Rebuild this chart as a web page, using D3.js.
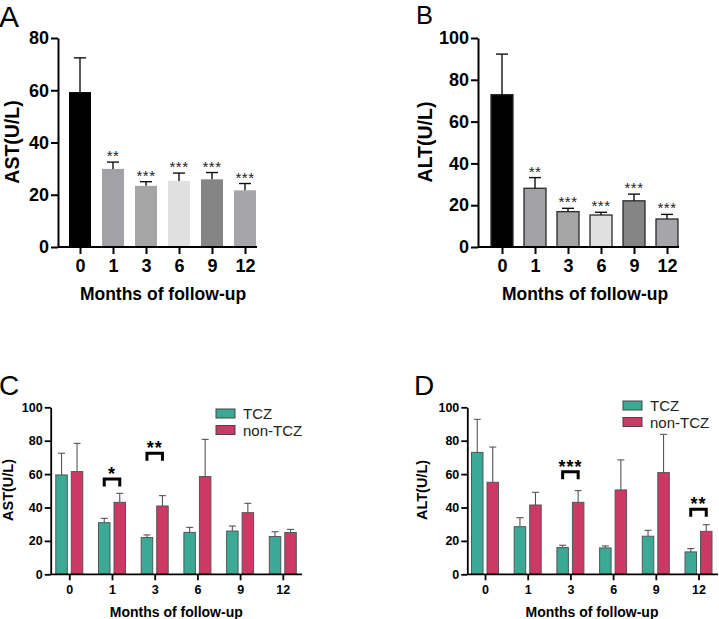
<!DOCTYPE html>
<html>
<head>
<meta charset="utf-8">
<script src="https://cdn.jsdelivr.net/npm/d3@7"></script>
<style>
  body { margin: 0; background: #fff; }
  svg text { font-family: "Liberation Sans", Arial, sans-serif; }
</style>
</head>
<body>
<div id="chart"></div>
<script>
// months of follow-up
var months = ["0", "1", "3", "6", "9", "12"];

// panel A - AST, all patients
var astMean = [59.3, 29.9, 23.4, 25.3, 25.9, 21.7];
var astErr  = [72.4, 32.5, 25.0, 28.3, 28.5, 24.3];
var astSig  = ["", "**", "***", "***", "***", "***"];

// panel B - ALT, all patients
var altMean = [72.9, 28.1, 16.9, 15.3, 22.1, 13.4];
var altErr  = [92.3, 33.2, 18.5, 16.6, 25.3, 15.6];
var altSig  = ["", "**", "***", "***", "***", "***"];

var barFills = ["#000000", "#a2a2a6", "#a5a5a5", "#e0e0e0", "#858585", "#a5a5aa"];

// panel C - AST by group
var groups = ["TCZ", "non-TCZ"];
var astTcz    = [59.5, 30.9, 22.0, 25.1, 25.9, 22.6];
var astTczErr = [72.5, 33.5, 23.6, 28.1, 28.9, 25.5];
var astNon    = [61.5, 43.1, 40.9, 58.5, 36.9, 25.0];
var astNonErr = [78.4, 48.5, 47.1, 80.8, 42.5, 26.9];
var astBrackets = [{month: "1", level: 57, label: "*"}, {month: "3", level: 72.5, label: "**"}];

// panel D - ALT by group
var altTcz    = [73.0, 28.5, 16.0, 15.8, 22.8, 13.4];
var altTczErr = [92.8, 33.9, 17.4, 17.0, 26.3, 15.4];
var altNon    = [55.1, 41.5, 43.1, 50.5, 60.9, 25.7];
var altNonErr = [76.2, 49.1, 50.1, 68.5, 83.8, 29.7];
var altBrackets = [{month: "3", level: 61.4, label: "***"}, {month: "12", level: 38.9, label: "**"}];

var groupColors = ["#3aaa96", "#cc3964"];

var svg = d3.select("#chart").append("svg")
    .attr("width", 719)
    .attr("height", 619);

function panelLetter(txt, x, y, size) {
    svg.append("text").attr("x", x).attr("y", y)
        .attr("font-size", size).attr("fill", "#000").text(txt);
}

// simple bar chart (panels A, B)
function drawSimple(opt) {
    var g = svg.append("g");
    var x = d3.scalePoint().domain(months).range([opt.x0, opt.x0 + 165]);
    var y = d3.scaleLinear().domain([0, opt.ymax]).range([247, 38]);
    var bw = 22;

    var rows = months.map(function (m, i) {
        return {m: m, v: opt.mean[i], e: opt.err[i], s: opt.sig[i], c: barFills[i]};
    });

    g.selectAll("rect.bar").data(rows).enter().append("rect")
        .attr("class", "bar")
        .attr("x", function (d) { return x(d.m) - bw / 2; })
        .attr("y", function (d) { return y(d.v); })
        .attr("width", bw)
        .attr("height", function (d) { return y(0) - y(d.v); })
        .attr("fill", function (d) { return d.c; })
        .attr("stroke", opt.outline ? "#2a2a2a" : "none")
        .attr("stroke-width", 1.3);

    g.selectAll("line.err").data(rows).enter().append("line")
        .attr("x1", function (d) { return x(d.m); })
        .attr("x2", function (d) { return x(d.m); })
        .attr("y1", function (d) { return y(d.v); })
        .attr("y2", function (d) { return y(d.e); })
        .attr("stroke", "#111").attr("stroke-width", 1.4);
    g.selectAll("line.cap").data(rows).enter().append("line")
        .attr("x1", function (d) { return x(d.m) - 6; })
        .attr("x2", function (d) { return x(d.m) + 6; })
        .attr("y1", function (d) { return y(d.e); })
        .attr("y2", function (d) { return y(d.e); })
        .attr("stroke", "#111").attr("stroke-width", 1.4);

    g.selectAll("text.sig").data(rows).enter().append("text")
        .attr("x", function (d) { return x(d.m); })
        .attr("y", function (d) { return y(d.e) - 1; })
        .attr("text-anchor", "middle")
        .attr("font-size", 15)
        .attr("letter-spacing", 0.5)
        .attr("fill", "#222")
        .text(function (d) { return d.s; });

    var yAxis = g.append("g")
        .attr("transform", "translate(" + opt.yx + ",0)")
        .call(d3.axisLeft(y).tickValues(d3.range(0, opt.ymax + 1, 20)).tickSize(7).tickSizeOuter(0).tickPadding(2));
    var xAxis = g.append("g")
        .attr("transform", "translate(0,247)")
        .call(d3.axisBottom(x).tickSize(7).tickSizeOuter(0).tickPadding(5));
    xAxis.select(".domain").attr("d", "M" + opt.yx + ",0H" + (opt.x0 + 177));
    [yAxis, xAxis].forEach(function (a) {
        a.selectAll("path, line").attr("stroke", "#000").attr("stroke-width", 2);
        a.selectAll("text").attr("font-size", 18).attr("font-weight", "bold").attr("fill", "#000");
    });

    g.append("text")
        .attr("transform", "translate(" + opt.ylx + ",142) rotate(-90)")
        .attr("text-anchor", "middle")
        .attr("dy", "0.35em")
        .attr("font-size", 19.5).attr("font-weight", "bold")
        .text(opt.ylabel);
    g.append("text")
        .attr("x", opt.x0 + 83).attr("y", 300)
        .attr("text-anchor", "middle")
        .attr("font-size", 17.5).attr("font-weight", "bold")
        .text("Months of follow-up");
}

// grouped bar chart (panels C, D)
function drawGrouped(opt) {
    var g = svg.append("g");
    var x = d3.scalePoint().domain(months).range([opt.x0, opt.x0 + 213.5]);
    var xi = d3.scaleBand().domain(groups).range([-13.5, 13.5]).paddingInner(0.26);
    var y = d3.scaleLinear().domain([0, 100]).range([574.3, 407.3]);

    var rows = [];
    months.forEach(function (m, i) {
        rows.push({m: m, k: "TCZ", v: opt.tcz[i], e: opt.tczErr[i], c: groupColors[0]});
        rows.push({m: m, k: "non-TCZ", v: opt.non[i], e: opt.nonErr[i], c: groupColors[1]});
    });
    var cx = function (d) { return x(d.m) + xi(d.k) + xi.bandwidth() / 2; };

    g.selectAll("line.err").data(rows).enter().append("line")
        .attr("x1", cx).attr("x2", cx)
        .attr("y1", function (d) { return y(d.v); })
        .attr("y2", function (d) { return y(d.e); })
        .attr("stroke", "#555").attr("stroke-width", 1.1);
    g.selectAll("line.cap").data(rows).enter().append("line")
        .attr("x1", function (d) { return cx(d) - 3.5; })
        .attr("x2", function (d) { return cx(d) + 3.5; })
        .attr("y1", function (d) { return y(d.e); })
        .attr("y2", function (d) { return y(d.e); })
        .attr("stroke", "#555").attr("stroke-width", 1.1);

    g.selectAll("rect.bar").data(rows).enter().append("rect")
        .attr("x", function (d) { return x(d.m) + xi(d.k); })
        .attr("y", function (d) { return y(d.v); })
        .attr("width", xi.bandwidth())
        .attr("height", function (d) { return y(0) - y(d.v); })
        .attr("fill", function (d) { return d.c; })
        .attr("stroke", "#555").attr("stroke-width", 1);

    // significance brackets
    var bx1 = function (d) { return x(d.month) + xi("TCZ") + xi.bandwidth() / 2; };
    var bx2 = function (d) { return x(d.month) + xi("non-TCZ") + xi.bandwidth() / 2; };
    g.selectAll("path.bracket").data(opt.brackets).enter().append("path")
        .attr("d", function (d) {
            var yt = y(d.level);
            return "M" + bx1(d) + "," + (yt + 7.5) + "V" + yt + "H" + bx2(d) + "V" + (yt + 7.5);
        })
        .attr("fill", "none").attr("stroke", "#000").attr("stroke-width", 3);
    g.selectAll("text.sig").data(opt.brackets).enter().append("text")
        .attr("x", function (d) { return (bx1(d) + bx2(d)) / 2; })
        .attr("y", function (d) { return y(d.level) + 1; })
        .attr("text-anchor", "middle")
        .attr("font-size", 18).attr("font-weight", "bold")
        .attr("letter-spacing", 1)
        .text(function (d) { return d.label; });

    var yAxis = g.append("g")
        .attr("transform", "translate(" + opt.yx + ",0)")
        .call(d3.axisLeft(y).tickValues(d3.range(0, 101, 20)).tickSize(6).tickSizeOuter(0).tickPadding(2));
    var xAxis = g.append("g")
        .attr("transform", "translate(0,574.3)")
        .call(d3.axisBottom(x).tickSize(6).tickSizeOuter(0).tickPadding(5));
    xAxis.select(".domain").attr("d", "M" + opt.yx + ",0H" + opt.xend);
    [yAxis, xAxis].forEach(function (a) {
        a.selectAll("path, line").attr("stroke", "#000").attr("stroke-width", 1.8);
        a.selectAll("text").attr("font-size", 12.5).attr("font-weight", "bold").attr("fill", "#000");
    });

    g.append("text")
        .attr("transform", "translate(" + opt.ylx + ",490) rotate(-90)")
        .attr("text-anchor", "middle")
        .attr("dy", "0.35em")
        .attr("font-size", 14.5).attr("font-weight", "bold")
        .text(opt.ylabel);
    g.append("text")
        .attr("x", opt.x0 + 107).attr("y", 617)
        .attr("text-anchor", "middle")
        .attr("font-size", 14).attr("font-weight", "bold")
        .text("Months of follow-up");

    // legend
    var lg = g.append("g").attr("transform", "translate(" + opt.lx + "," + opt.ly + ")");
    groups.forEach(function (k, i) {
        lg.append("rect").attr("x", 0).attr("y", i * 16.5)
            .attr("width", 19).attr("height", 9)
            .attr("fill", groupColors[i]).attr("stroke", "#444").attr("stroke-width", 1);
        lg.append("text").attr("x", 27).attr("y", i * 16.5 + 10)
            .attr("font-size", 15).attr("fill", "#222").text(k);
    });
}

panelLetter("A", -1, 27.2, 30);
panelLetter("B", 416, 23.5, 25.5);
panelLetter("C", -1, 395, 28);
panelLetter("D", 414, 395, 28);

drawSimple({x0: 80, yx: 58, ylx: 12, ymax: 80, mean: astMean, err: astErr, sig: astSig, ylabel: "AST(U/L)", outline: false});
drawSimple({x0: 502, yx: 478, ylx: 425, ymax: 100, mean: altMean, err: altErr, sig: altSig, ylabel: "ALT(U/L)", outline: true});
drawGrouped({x0: 69.3, yx: 50.7, ylx: 7.5, xend: 302, tcz: astTcz, tczErr: astTczErr, non: astNon, nonErr: astNonErr,
    brackets: astBrackets, ylabel: "AST(U/L)", lx: 216, ly: 409});
drawGrouped({x0: 485, yx: 467.3, ylx: 422, xend: 718, tcz: altTcz, tczErr: altTczErr, non: altNon, nonErr: altNonErr,
    brackets: altBrackets, ylabel: "ALT(U/L)", lx: 623, ly: 401});
</script>
</body>
</html>
